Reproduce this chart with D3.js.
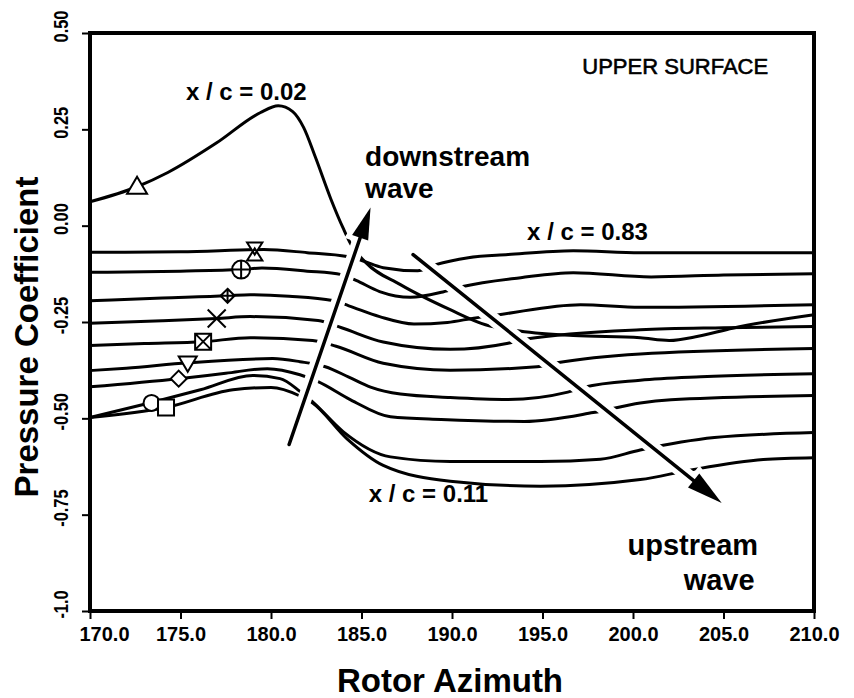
<!DOCTYPE html>
<html lang="en">
<head>
<meta charset="UTF-8">
<title>Upper surface pressure coefficient</title>
<script src="https://cdn.jsdelivr.net/npm/d3@7"></script>
<style>
  body { margin: 0; background: #fff; }
  svg text { font-family: "Liberation Sans", Arial, Helvetica, sans-serif; fill: #000; }
</style>
</head>
<body>
<svg id="chart" width="854" height="698"></svg>
<script>
// rotor azimuth vs pressure coefficient, one array per chord station
const cp002 = [[170,0.062],[172.6,0.101],[174.3,0.138],[177.0,0.215],[179.4,0.293],[180.4,0.311],[181.2,0.296],[181.8,0.255],[182.45,0.178],[183.3,0.070],[184.0,-0.008],[184.4,-0.047],[185.2,-0.094],[187.15,-0.153],[189.9,-0.218],[191.85,-0.257],[193.5,-0.272],[196.7,-0.285],[200.4,-0.291],[202.0,-0.298],[203.6,-0.287],[205.5,-0.266],[210,-0.231]];
const cpHourglass = [[170,-0.069],[175,-0.068],[179.6,-0.062],[182,-0.070],[184.2,-0.080],[185.05,-0.091],[186.2,-0.109],[188.1,-0.117],[189.1,-0.101],[190.9,-0.083],[193.1,-0.075],[196.7,-0.065],[200.4,-0.070],[210,-0.070]];
const cpCirclePlus = [[170,-0.121],[175,-0.118],[178.35,-0.114],[179.5,-0.110],[182,-0.118],[183.9,-0.127],[184.7,-0.142],[186.0,-0.171],[187.7,-0.186],[189.5,-0.172],[190.6,-0.158],[193.8,-0.135],[196.7,-0.122],[201,-0.133],[205,-0.128],[210,-0.125]];
const cpDiamondPlus = [[170,-0.195],[174,-0.188],[177.6,-0.182],[178.85,-0.179],[181,-0.183],[183.4,-0.194],[184.3,-0.208],[186.0,-0.236],[187.9,-0.255],[189.75,-0.251],[191.2,-0.240],[192.6,-0.231],[197.1,-0.205],[200.4,-0.212],[210,-0.205]];
const cpCross = [[170,-0.253],[174,-0.247],[177.0,-0.241],[178.85,-0.236],[182.6,-0.246],[183.9,-0.265],[186.2,-0.302],[189.9,-0.321],[193.1,-0.305],[194.1,-0.294],[200.4,-0.270],[205,-0.265],[210,-0.262]];
const cpBoxX = [[170,-0.311],[173,-0.306],[176.25,-0.301],[178.85,-0.291],[182.3,-0.298],[183.6,-0.313],[186.2,-0.357],[189.9,-0.375],[194.7,-0.366],[195.8,-0.356],[200.4,-0.333],[210,-0.319]];
const cpTriDown = [[170,-0.376],[172,-0.370],[175.4,-0.356],[180.1,-0.345],[181.6,-0.353],[183.0,-0.366],[184.3,-0.393],[185.5,-0.419],[187.15,-0.437],[189.9,-0.446],[193.1,-0.451],[196.4,-0.432],[197.3,-0.419],[200.4,-0.401],[203.75,-0.392],[210,-0.384]];
const cpDiamond = [[170,-0.418],[174.9,-0.397],[177.5,-0.383],[179.8,-0.371],[181.6,-0.387],[182.6,-0.405],[184.4,-0.452],[186.6,-0.496],[189.4,-0.503],[194.0,-0.508],[197.8,-0.485],[200.4,-0.460],[202.1,-0.452],[210,-0.441]];
const cpCircle = [[170,-0.498],[173.4,-0.459],[176.1,-0.426],[179.0,-0.389],[180.5,-0.397],[181.6,-0.430],[182.3,-0.457],[184.0,-0.535],[186.6,-0.600],[189.9,-0.612],[194.9,-0.612],[198.2,-0.606],[200.4,-0.582],[204.5,-0.550],[210,-0.537]];
const cpSquare = [[170,-0.498],[174.2,-0.472],[177.9,-0.426],[180.0,-0.420],[181.6,-0.442],[182.3,-0.460],[184.2,-0.553],[186.2,-0.622],[189.9,-0.663],[194.9,-0.676],[200.4,-0.659],[203.2,-0.634],[207.2,-0.607],[210,-0.602]];

const markerAz = [172.6, 179.1, 178.35, 177.6, 177.0, 176.25, 175.4, 174.9, 173.4, 174.2];
const markerCp = [0.101, -0.067, -0.114, -0.182, -0.241, -0.301, -0.356, -0.397, -0.460, -0.472];
const markerType = ["triangle","hourglass","circlePlus","diamondPlus","x","boxX","triangleDown","diamond","circle","square"];

const xTicks = [170, 175, 180, 185, 190, 195, 200, 205, 210];
const yTicks = [-1.0, -0.75, -0.5, -0.25, 0, 0.25, 0.5];
const yTickLabels = ["-1.0", "-0.75", "-0.50", "-0.25", "0.00", "0.25", "0.50"];

const svg = d3.select("#chart");
const x = d3.scaleLinear().domain([170, 210]).range([90, 814]);
const y = d3.scaleLinear().domain([-1, 0.5]).range([611, 33]);

const line = d3.line()
  .x(d => x(d[0]))
  .y(d => y(d[1]))
  .curve(d3.curveMonotoneX);

const curves = [cp002, cpHourglass, cpCirclePlus, cpDiamondPlus, cpCross, cpBoxX, cpTriDown, cpDiamond, cpCircle, cpSquare];

svg.append("g")
  .selectAll("path")
  .data(curves)
  .enter().append("path")
  .attr("d", line)
  .attr("fill", "none")
  .attr("stroke", "#000")
  .attr("stroke-width", 3)
  .attr("stroke-linecap", "round");

// arrows with a white halo that cuts the curves
function arrow(a0, c0, a1, c1, headLen, headW) {
  const x0 = x(a0), y0 = y(c0), x1 = x(a1), y1 = y(c1);
  const len = Math.hypot(x1 - x0, y1 - y0);
  const ux = (x1 - x0) / len, uy = (y1 - y0) / len;
  const bx = x1 - ux * headLen, by = y1 - uy * headLen;
  const head = [[x1, y1], [bx - uy * headW / 2, by + ux * headW / 2], [bx + uy * headW / 2, by - ux * headW / 2]];
  const g = svg.append("g");
  g.append("line").attr("x1", x0).attr("y1", y0).attr("x2", bx).attr("y2", by)
    .attr("stroke", "#fff").attr("stroke-width", 14);
  g.append("polygon").attr("points", head.join(" "))
    .attr("fill", "#fff").attr("stroke", "#fff").attr("stroke-width", 10);
  g.append("line").attr("x1", x0).attr("y1", y0).attr("x2", bx + ux * 4).attr("y2", by + uy * 4)
    .attr("stroke", "#000").attr("stroke-width", 3.5).attr("stroke-linecap", "round");
  g.append("polygon").attr("points", head.join(" ")).attr("fill", "#000");
}
arrow(181.0, -0.568, 185.5, 0.047, 32, 17);
arrow(187.85, -0.075, 204.9, -0.72, 36, 18);

// markers
function markerPath(t, s) {
  const p = d3.path();
  if (t === "triangle") { p.moveTo(0, -s); p.lineTo(s, s * 0.7); p.lineTo(-s, s * 0.7); p.closePath(); }
  else if (t === "triangleDown") { p.moveTo(0, s); p.lineTo(s, -s * 0.7); p.lineTo(-s, -s * 0.7); p.closePath(); }
  else if (t === "hourglass") {
    p.moveTo(-s * 0.85, -s); p.lineTo(s * 0.85, -s); p.lineTo(0, s * 0.35); p.closePath();
    p.moveTo(-s * 0.85, s); p.lineTo(s * 0.85, s); p.lineTo(0, -s * 0.35); p.closePath();
  }
  else if (t === "circle" || t === "circlePlus") {
    p.moveTo(s, 0); p.arc(0, 0, s, 0, 2 * Math.PI);
    if (t === "circlePlus") { p.moveTo(-s, 0); p.lineTo(s, 0); p.moveTo(0, -s); p.lineTo(0, s); }
  }
  else if (t === "diamond" || t === "diamondPlus") {
    p.moveTo(0, -s); p.lineTo(s, 0); p.lineTo(0, s); p.lineTo(-s, 0); p.closePath();
    if (t === "diamondPlus") { p.moveTo(-s, 0); p.lineTo(s, 0); p.moveTo(0, -s); p.lineTo(0, s); }
  }
  else if (t === "square" || t === "boxX") {
    p.rect(-s, -s, 2 * s, 2 * s);
    if (t === "boxX") { p.moveTo(-s, -s); p.lineTo(s, s); p.moveTo(s, -s); p.lineTo(-s, s); }
  }
  else if (t === "x") { p.moveTo(-s, -s); p.lineTo(s, s); p.moveTo(s, -s); p.lineTo(-s, s); }
  return p.toString();
}
const markerSize = { triangle: 10, triangleDown: 9, hourglass: 9, circle: 8, circlePlus: 9, diamond: 8, diamondPlus: 7, square: 8, boxX: 8, x: 9 };

svg.append("g")
  .selectAll("path")
  .data(markerType)
  .enter().append("path")
  .attr("transform", (t, i) => `translate(${x(markerAz[i])},${y(markerCp[i])})`)
  .attr("d", t => markerPath(t, markerSize[t]))
  .attr("fill", t => t === "x" ? "none" : "#fff")
  .attr("stroke", "#000")
  .attr("stroke-width", 2);

// axes
const xAxis = svg.append("g")
  .attr("transform", "translate(0,611)")
  .call(d3.axisBottom(x).tickValues(xTicks).tickSize(8).tickPadding(8).tickFormat(d3.format(".1f")));
xAxis.select(".domain").remove();
xAxis.selectAll("line").attr("stroke-width", 2);
xAxis.selectAll("text").attr("font-size", 20).attr("font-weight", "bold")
  .attr("dx", (d, i) => i === 0 ? 14 : 0);

// y labels are printed narrow in the original, so squeeze them along the reading direction
const yAxis = svg.append("g")
  .attr("transform", "translate(90,0)")
  .call(d3.axisLeft(y).tickValues(yTicks).tickSize(8).tickFormat((d, i) => yTickLabels[i]));
yAxis.select(".domain").remove();
yAxis.selectAll("line").attr("stroke-width", 2);
yAxis.selectAll("text")
  .attr("transform", "rotate(-90) scale(0.78,1)")
  .attr("x", 9).attr("y", -22).attr("dy", 0)
  .attr("text-anchor", "middle")
  .attr("font-size", 21).attr("font-weight", "bold");

svg.append("rect")
  .attr("x", x(170)).attr("y", y(0.5))
  .attr("width", x(210) - x(170)).attr("height", y(-1) - y(0.5))
  .attr("fill", "none").attr("stroke", "#000").attr("stroke-width", 4);

svg.append("text")
  .attr("transform", `translate(38,${(y(0.5) + y(-1)) / 2 + 15}) rotate(-90)`)
  .attr("text-anchor", "middle")
  .attr("font-size", 33).attr("font-weight", "bold")
  .text("Pressure Coefficient");

svg.append("text")
  .attr("x", 450).attr("y", 692)
  .attr("text-anchor", "middle")
  .attr("font-size", 33).attr("font-weight", "bold")
  .text("Rotor Azimuth");

// annotations
function note(az, cp, txt, size, weight) {
  return svg.append("text").attr("x", x(az)).attr("y", y(cp))
    .attr("font-size", size).attr("font-weight", weight).text(txt);
}
note(197.2, 0.394, "UPPER SURFACE", 22, "normal")
  .attr("stroke", "#000").attr("stroke-width", 0.6);
note(175.3, 0.327, "x / c = 0.02", 24, "bold");
note(185.2, 0.156, "downstream", 28, "bold");
note(185.2, 0.073, "wave", 28, "bold");
note(194.15, -0.036, "x / c = 0.83", 24, "bold");
note(185.4, -0.716, "x / c = 0.11", 24, "bold");
note(199.7, -0.855, "upstream", 29, "bold");
note(202.8, -0.945, "wave", 29, "bold");
</script>
</body>
</html>
